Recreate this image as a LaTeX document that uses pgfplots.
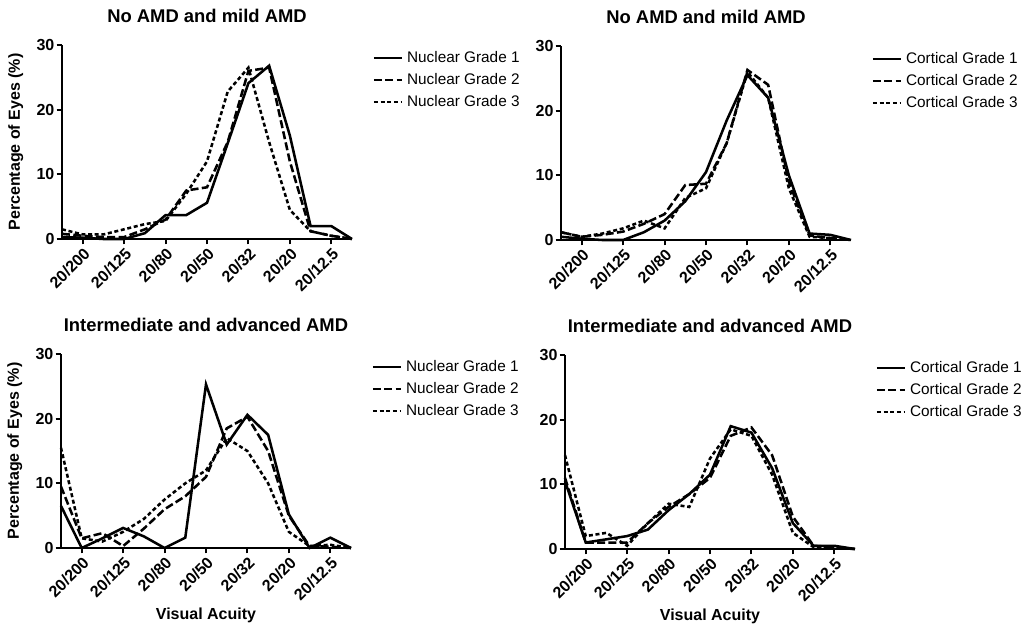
\documentclass[border=0pt]{standalone}
\usepackage{fontspec}
\setmainfont{Liberation Sans}
\usepackage{pgfplots}
\usepackage{pgfplotstable}
\pgfplotsset{compat=1.18}

% x: 0 = 20/250 ... 14 = 20/10 (one logMAR line per step)
\pgfplotstableread{
x  g1   g2   g3
0  0.3  0.8  1.5
1  0.2  0.5  0.7
2  0.0  0.3  0.7
3  0.0  0.3  1.5
4  0.9  1.5  2.3
5  3.7  3.0  2.8
6  3.7  7.5  7.0
7  5.6  8.0  12.0
8  14.8 15.0 22.8
9  24.1 26.0 26.5
10 26.8 26.5 15.0
11 16.0 12.0 4.5
12 2.0  1.2  1.2
13 2.0  0.5  0.5
14 0.0  0.0  0.0
}\nucmild
\pgfplotstableread{
x  g1   g2   g3
0  0.5  1.2  1.2
1  0.2  0.5  0.5
2  0.0  0.8  1.0
3  0.0  1.3  1.8
4  1.2  2.5  3.0
5  3.0  4.0  1.8
6  6.0  8.5  6.5
7  10.5 8.7  8.0
8  18.5 15.0 15.0
9  25.5 26.3 26.0
10 22.0 24.0 22.0
11 10.0 9.0  8.0
12 1.0  0.7  0.5
13 0.8  0.3  0.3
14 0.0  0.0  0.0
}\cormild
\pgfplotstableread{
x  g1   g2   g3
0  6.5  9.5  15.5
1  0.0  1.5  1.5
2  1.5  2.3  1.0
3  3.1  0.3  2.5
4  1.8  3.0  4.5
5  0.0  6.0  7.5
6  1.6  8.0  10.0
7  25.3 11.0 12.0
8  16.0 18.5 17.0
9  20.6 20.3 15.0
10 17.5 15.0 10.0
11 5.2  5.0  2.5
12 0.0  0.3  0.3
13 1.6  0.2  0.5
14 0.0  0.0  0.0
}\nucadv
\pgfplotstableread{
x  g1   g2   g3
0  10.5 11.0 14.5
1  1.0  1.0  2.0
2  1.5  1.0  2.5
3  2.0  1.0  0.5
4  3.0  4.0  4.0
5  6.0  6.5  7.0
6  8.5  8.5  6.5
7  11.5 11.0 14.0
8  19.0 17.5 18.5
9  18.0 18.8 17.5
10 12.5 14.5 11.5
11 4.0  5.0  2.5
12 0.5  0.5  0.3
13 0.5  0.3  0.2
14 0.0  0.0  0.0
}\coradv

\pgfplotsset{
  panel/.style={
    scale only axis, width=217.5pt, height=145.5pt,
    xmin=0, xmax=14, ymin=0, ymax=30,
    axis x line*=bottom, axis y line*=left,
    axis line style={-, line width=2pt, black},
    tick align=outside, major tick length=4pt,
    tick style={line width=1.5pt, black},
    xtick={1,3,5,7,9,11,13},
    xticklabels={20/200,20/125,20/80,20/50,20/32,20/20,20/12.5},
    ytick={0,10,20,30},
    /pgf/number format/assume math mode=true,
    ticklabel style={font=\bfseries\fontsize{12}{14}\selectfont},
    yticklabel style={inner sep=1.5pt},
    xticklabel style={rotate=45, anchor=north east, inner sep=1pt},
    title style={font=\bfseries\fontsize{13.8}{16}\selectfont,
      at={(axis description cs:0.5,1)}, anchor=base, yshift=11pt},
    label style={font=\bfseries\fontsize{12}{14}\selectfont},
    ylabel style={at={(axis description cs:-0.159,0.5)}, anchor=center},
    xlabel style={at={(axis description cs:0.5,-0.345)}, anchor=center},
    clip=false,
    legend cell align=left,
    legend style={draw=none, fill=none, at={(axis description cs:1.07,0.975)},
      anchor=north west, font=\fontsize{11.5}{13}\selectfont,
      row sep=4.6pt, inner sep=0pt,
      nodes={inner xsep=3pt, inner ysep=1pt}},
    legend image code/.code={\draw[##1] (0pt,0pt) -- (21pt,0pt);},
  },
  g1/.style={black, line width=1.9pt, solid},
  g2/.style={black, line width=1.9pt, dash pattern=on 6pt off 2.5pt},
  g3/.style={black, line width=1.9pt, dash pattern=on 3pt off 2pt},
}

\begin{document}
\begin{tikzpicture}
\useasboundingbox (0,0) rectangle (773.25pt,-474.75pt);

\begin{axis}[panel, at={(46.5pt,-179.25pt)}, anchor=south west,
  title={No AMD and mild AMD}, ylabel={Percentage of Eyes (\%)}]
\addplot[g1] table[x=x, y=g1] {\nucmild};
\addlegendentry{Nuclear Grade 1}
\addplot[g2] table[x=x, y=g2] {\nucmild};
\addlegendentry{Nuclear Grade 2}
\addplot[g3] table[x=x, y=g3] {\nucmild};
\addlegendentry{Nuclear Grade 3}
\end{axis}

\begin{axis}[panel, at={(420.75pt,-180pt)}, anchor=south west,
  title={No AMD and mild AMD}]
\addplot[g1] table[x=x, y=g1] {\cormild};
\addlegendentry{Cortical Grade 1}
\addplot[g2] table[x=x, y=g2] {\cormild};
\addlegendentry{Cortical Grade 2}
\addplot[g3] table[x=x, y=g3] {\cormild};
\addlegendentry{Cortical Grade 3}
\end{axis}

\begin{axis}[panel, at={(45.75pt,-411pt)}, anchor=south west,
  title={Intermediate and advanced AMD},
  ylabel={Percentage of Eyes (\%)}, xlabel={Visual Acuity}]
\addplot[g1] table[x=x, y=g1] {\nucadv};
\addlegendentry{Nuclear Grade 1}
\addplot[g2] table[x=x, y=g2] {\nucadv};
\addlegendentry{Nuclear Grade 2}
\addplot[g3] table[x=x, y=g3] {\nucadv};
\addlegendentry{Nuclear Grade 3}
\end{axis}

\begin{axis}[panel, at={(423.75pt,-411.75pt)}, anchor=south west,
  title={Intermediate and advanced AMD}, xlabel={Visual Acuity}]
\addplot[g1] table[x=x, y=g1] {\coradv};
\addlegendentry{Cortical Grade 1}
\addplot[g2] table[x=x, y=g2] {\coradv};
\addlegendentry{Cortical Grade 2}
\addplot[g3] table[x=x, y=g3] {\coradv};
\addlegendentry{Cortical Grade 3}
\end{axis}
\end{tikzpicture}
\end{document}
